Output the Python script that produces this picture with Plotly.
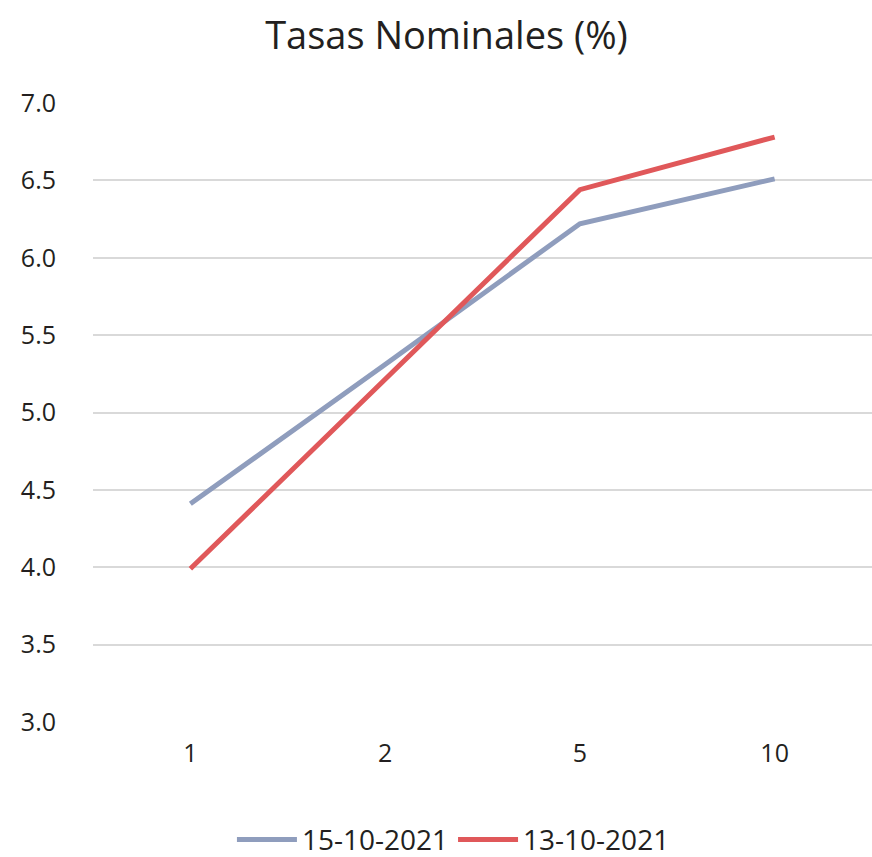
import plotly.graph_objects as go

# Plazos (años) y tasas nominales (%)
plazos = ["1", "2", "5", "10"]
serie_15oct = [4.41, 5.31, 6.22, 6.51]
serie_13oct = [3.99, 5.22, 6.44, 6.78]
etiqueta_15oct = "15-10-2021"
etiqueta_13oct = "13-10-2021"
y_ticks = [3.0, 3.5, 4.0, 4.5, 5.0, 5.5, 6.0, 6.5, 7.0]

FONT = "'Open Sans', sans-serif"
TEXT = "#231f20"

fig = go.Figure()
fig.add_trace(go.Scatter(
    x=plazos, y=serie_15oct, name=etiqueta_15oct, mode="lines",
    line=dict(color="#8f9dbd", width=5),
))
fig.add_trace(go.Scatter(
    x=plazos, y=serie_13oct, name=etiqueta_13oct, mode="lines",
    line=dict(color="#e0585a", width=5),
))

fig.update_layout(
    width=872, height=857,
    margin=dict(l=93, r=0, t=103, b=135),
    paper_bgcolor="white", plot_bgcolor="white",
    font=dict(family=FONT, color=TEXT, size=25),
    title=dict(text="Tasas Nominales (%)", x=0.512, xref="container", xanchor="center",
               y=0.958, yref="container", yanchor="middle",
               font=dict(family=FONT, size=38, color=TEXT)),
    xaxis=dict(type="category", range=[-0.5, 3.5], showgrid=False, zeroline=False,
               showline=False, ticks="", ticklabelstandoff=14, tickfont=dict(size=25)),
    yaxis=dict(range=[3.0, 7.0], tickvals=y_ticks, tickformat=".1f",
               showgrid=True, gridcolor="#d9d9d9", gridwidth=2,
               zeroline=False, showline=False, ticks="",
               ticklabelstandoff=36, tickfont=dict(size=25)),
    legend=dict(orientation="h", x=0.52, xref="container", xanchor="center",
                y=0.02, yref="container", yanchor="middle",
                font=dict(size=28), itemwidth=60, tracegroupgap=0),
    showlegend=True,
)

fig.write_html("out.html")
